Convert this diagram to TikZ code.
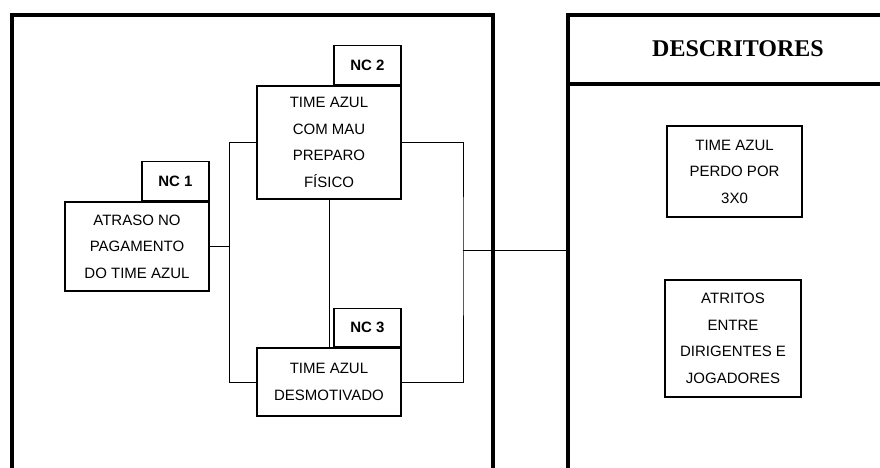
\documentclass[tikz,border=0pt]{standalone}
\usepackage{fontspec}
\setmainfont{Liberation Sans}
\newfontfamily\headfont{Liberation Serif}
\usetikzlibrary{positioning}

\begin{document}
\begin{tikzpicture}[x=1pt,y=-1pt,
	causebox/.style={draw,line width=1.2pt,inner sep=0pt,align=center,
		font=\fontsize{15}{26.5}\selectfont},
	tagbox/.style={draw,line width=1.2pt,inner sep=0pt,anchor=south east,
		minimum width=67pt,minimum height=39pt,font=\fontsize{15}{16}\selectfont\bfseries},
	link/.style={line width=1pt},
	frame/.style={line width=3.5pt}]

\def\pageW{880}
\def\pageH{468}
\def\frameTop{15}
\def\leftL{12}
\def\leftR{493}
\def\rightL{568}
\def\headY{84}

\useasboundingbox (0,0) rectangle (\pageW,\pageH);
\clip (0,0) rectangle (\pageW,\pageH);

% frames
\draw [frame] (\leftL,\pageH+10) -- (\leftL,\frameTop) -- (\leftR,\frameTop) -- (\leftR,\pageH+10);
\draw [frame] (\rightL,\pageH+10) -- (\rightL,\frameTop) -- (\pageW+10,\frameTop);
\draw [frame] (\rightL,\headY) -- (\pageW+10,\headY);
\node [font=\headfont\fontsize{24}{26}\selectfont\bfseries] (descr) at (738,49) {DESCRITORES};

% causes
\node [causebox,minimum width=144pt,minimum height=89pt] (atraso) at (137,246.5)
	{ATRASO NO\\PAGAMENTO\\DO TIME AZUL};
\node [causebox,minimum width=144pt,minimum height=113pt] (preparo) at (329,142.5)
	{TIME AZUL\\COM MAU\\PREPARO\\FÍSICO};
\node [causebox,minimum width=144pt,minimum height=68pt] (desmot) at (329,382)
	{TIME AZUL\\DESMOTIVADO};

\node [tagbox] (nc1) at (atraso.north east) {NC 1};
\node [tagbox] (nc2) at (preparo.north east) {NC 2};
\node [tagbox,minimum height=38pt] (nc3) at (desmot.north east) {NC 3};

% descriptors
\node [causebox,minimum width=135pt,minimum height=91pt] (perdo) at (734.5,171.5)
	{TIME AZUL\\PERDO POR\\3X0};
\node [causebox,minimum width=136pt,minimum height=117pt] (atritos) at (733,338.5)
	{ATRITOS\\ENTRE\\DIRIGENTES E\\JOGADORES};

% left junction
\coordinate (jleft) at ([xshift=20pt]atraso.east);
\draw [link] (atraso.east) -- (jleft);
\draw [link] (preparo.west) -| (jleft) |- (desmot.west);
\draw [link] (preparo.south) -- (desmot.north);

% right junction
\coordinate (jright) at (463,250);
\coordinate (dentry) at (\rightL,250);
\draw [link] (preparo.east) -| (jright) |- (desmot.east);
\draw [link] (jright) -- (dentry);

\end{tikzpicture}
\end{document}
